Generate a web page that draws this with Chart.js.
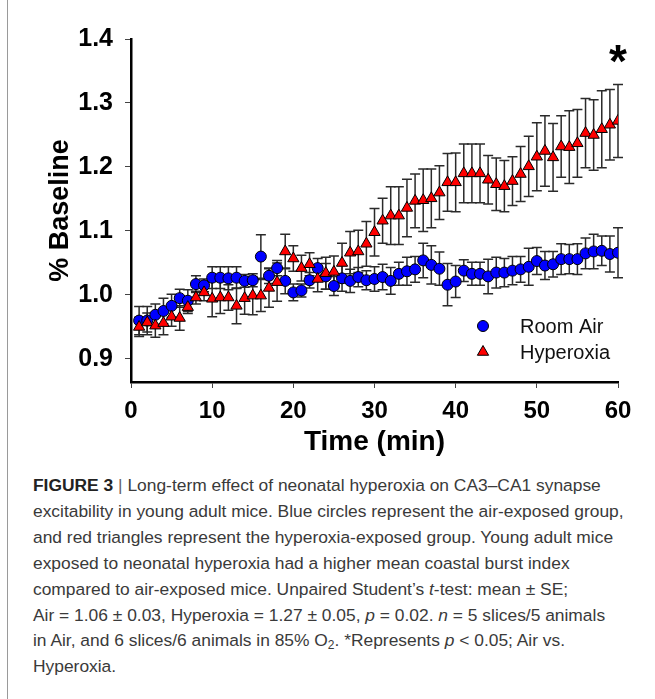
<!DOCTYPE html>
<html>
<head>
<meta charset="utf-8">
<script src="https://cdn.jsdelivr.net/npm/chart.js@4.4.1/dist/chart.umd.min.js"></script>
<style>
  body { margin: 0; background: #fff; width: 655px; height: 699px; overflow: hidden; position: relative; font-family: "Liberation Sans", Arial, sans-serif; }
  #frame { position: absolute; left: 7px; top: 0; width: 1px; height: 699px; background: #9a9a9a; }
  #wrap { position: absolute; left: 0; top: 0; width: 655px; height: 470px; }
  #caption { position: absolute; left: 33px; top: 473px; font-size: 17.4px; line-height: 25.9px; color: #3a3a3a; white-space: nowrap; }
  #caption b { color: #222; }
  #caption .bar { color: #666; }
  #caption sub { font-size: 12px; line-height: 0; vertical-align: -3px; }
</style>
</head>
<body>
<div id="frame"></div>
<div id="wrap"><canvas id="chart"></canvas></div>
<div id="caption">
<b>FIGURE 3</b> <span class="bar">|</span> Long-term effect of neonatal hyperoxia on CA3–CA1 synapse<br>
excitability in young adult mice. Blue circles represent the air-exposed group,<br>
and red triangles represent the hyperoxia-exposed group. Young adult mice<br>
exposed to neonatal hyperoxia had a higher mean coastal burst index<br>
compared to air-exposed mice. Unpaired Student’s <i>t</i>-test: mean ± SE;<br>
Air = 1.06 ± 0.03, Hyperoxia = 1.27 ± 0.05, <i>p</i> = 0.02. <i>n</i> = 5 slices/5 animals<br>
in Air, and 6 slices/6 animals in 85% O<sub>2</sub>. *Represents <i>p</i> &lt; 0.05; Air vs.<br>
Hyperoxia.
</div>
<script>
const minutes = [1, 2, 3, 4, 5, 6, 7, 8, 9, 10, 11, 12, 13, 14, 15, 16, 17, 18, 19, 20,
  21, 22, 23, 24, 25, 26, 27, 28, 29, 30, 31, 32, 33, 34, 35, 36, 37, 38, 39, 40,
  41, 42, 43, 44, 45, 46, 47, 48, 49, 50, 51, 52, 53, 54, 55, 56, 57, 58, 59, 60];

const roomAir = [0.960, 0.960, 0.969, 0.975, 0.983, 0.995, 0.991, 1.017, 1.015, 1.027,
  1.027, 1.026, 1.027, 1.022, 1.023, 1.060, 1.030, 1.042, 1.022, 1.004,
  1.007, 1.023, 1.042, 1.029, 1.014, 1.026, 1.022, 1.028, 1.023, 1.025,
  1.028, 1.022, 1.033, 1.037, 1.040, 1.054, 1.047, 1.041, 1.016, 1.021,
  1.038, 1.033, 1.033, 1.029, 1.035, 1.035, 1.038, 1.040, 1.044, 1.053,
  1.046, 1.048, 1.056, 1.056, 1.056, 1.065, 1.068, 1.069, 1.064, 1.066];

const roomAirSE = [0.022, 0.022, 0.017, 0.020, 0.018, 0.014, 0.017, 0.013, 0.010, 0.017,
  0.017, 0.018, 0.017, 0.010, 0.010, 0.034, 0.012, 0.012, 0.020, 0.013,
  0.010, 0.012, 0.015, 0.020, 0.015, 0.020, 0.018, 0.015, 0.015, 0.019,
  0.020, 0.021, 0.018, 0.022, 0.020, 0.027, 0.030, 0.026, 0.033, 0.025,
  0.017, 0.018, 0.018, 0.027, 0.024, 0.022, 0.022, 0.020, 0.029, 0.021,
  0.022, 0.020, 0.024, 0.023, 0.024, 0.024, 0.027, 0.023, 0.028, 0.039];

const hyperoxia = [0.950, 0.957, 0.952, 0.956, 0.966, 0.964, 0.981, 0.996, 1.004, 0.994,
  0.996, 0.996, 0.983, 0.995, 0.999, 0.999, 1.011, 1.020, 1.068, 1.057,
  1.042, 1.048, 1.025, 1.034, 1.036, 1.050, 1.066, 1.068, 1.080, 1.098,
  1.116, 1.124, 1.124, 1.136, 1.147, 1.148, 1.151, 1.160, 1.176, 1.176,
  1.190, 1.190, 1.190, 1.180, 1.173, 1.170, 1.178, 1.189, 1.201, 1.216,
  1.225, 1.215, 1.232, 1.231, 1.237, 1.253, 1.250, 1.259, 1.266, 1.272];

const hyperoxiaSE = [0.015, 0.015, 0.018, 0.018, 0.015, 0.019, 0.010, 0.010, 0.013, 0.028,
  0.025, 0.020, 0.028, 0.025, 0.030, 0.025, 0.030, 0.030, 0.027, 0.020,
  0.020, 0.018, 0.020, 0.025, 0.025, 0.031, 0.033, 0.033, 0.035, 0.037,
  0.035, 0.045, 0.045, 0.045, 0.042, 0.049, 0.046, 0.042, 0.045, 0.046,
  0.046, 0.046, 0.046, 0.038, 0.041, 0.040, 0.038, 0.043, 0.047, 0.053,
  0.055, 0.053, 0.048, 0.057, 0.053, 0.054, 0.055, 0.060, 0.055, 0.057];

const xTicks = [0, 10, 20, 30, 40, 50, 60];
const yTicks = [0.9, 1.0, 1.1, 1.2, 1.3, 1.4];

const boldFont = size => ({family: '"Liberation Sans", Arial, sans-serif', size: size, weight: 'bold'});

const toPoints = values => values.map((v, i) => ({x: minutes[i], y: v}));

// error bars go under the markers
const errorBars = {
  id: 'errorBars',
  beforeDatasetsDraw(chart) {
    const {ctx, scales: {x, y}} = chart;
    ctx.save();
    ctx.strokeStyle = '#2a2a2a';
    ctx.lineWidth = 1.5;
    chart.data.datasets.forEach(ds => {
      ds.data.forEach((p, i) => {
        const px = x.getPixelForValue(p.x);
        const top = y.getPixelForValue(p.y + ds.errors[i]);
        const bottom = y.getPixelForValue(p.y - ds.errors[i]);
        ctx.beginPath();
        ctx.moveTo(px, top); ctx.lineTo(px, bottom);
        ctx.moveTo(px - 5, top); ctx.lineTo(px + 5, top);
        ctx.moveTo(px - 5, bottom); ctx.lineTo(px + 5, bottom);
        ctx.stroke();
      });
    });
    ctx.restore();
  }
};

const legendAndStar = {
  id: 'legendAndStar',
  afterDraw(chart) {
    const {ctx, chartArea, scales: {x, y}} = chart;
    ctx.save();
    // significance star over the last time point
    ctx.fillStyle = '#000';
    ctx.font = 'bold 46px "Liberation Sans", Arial, sans-serif';
    ctx.textAlign = 'center';
    ctx.textBaseline = 'middle';
    ctx.fillText('*', x.getPixelForValue(60), y.getPixelForValue(1.36));

    // legend
    const mx = chartArea.left + 352;
    const tx = chartArea.left + 389;
    const rows = [chartArea.top + 287, chartArea.top + 313];
    ctx.font = '20px "Liberation Sans", Arial, sans-serif';
    ctx.textAlign = 'left';
    chart.data.datasets.forEach((ds, i) => {
      ctx.fillStyle = ds.backgroundColor;
      ctx.strokeStyle = '#000';
      ctx.lineWidth = 1;
      Chart.helpers.drawPoint(ctx, {pointStyle: ds.pointStyle, radius: ds.pointRadius, borderWidth: 1}, mx, rows[i]);
      ctx.fillStyle = '#111';
      ctx.fillText(ds.label, tx, rows[i] + 1);
    });
    ctx.restore();
  }
};

new Chart(document.getElementById('chart'), {
  type: 'scatter',
  data: {
    datasets: [
      {
        label: 'Room Air',
        data: toPoints(roomAir),
        errors: roomAirSE,
        pointStyle: 'circle',
        pointRadius: 5.5,
        backgroundColor: '#0000ff',
        borderColor: '#000',
        borderWidth: 1,
        order: 2,
      },
      {
        label: 'Hyperoxia',
        data: toPoints(hyperoxia),
        errors: hyperoxiaSE,
        pointStyle: 'triangle',
        pointRadius: 6.5,
        backgroundColor: '#ff0000',
        borderColor: '#000',
        borderWidth: 1,
        order: 1,
      },
    ]
  },
  options: {
    responsive: true,
    maintainAspectRatio: false,
    animation: false,
    events: [],
    layout: {padding: {left: 0, top: 39, right: 37, bottom: 0}},
    plugins: {
      legend: {display: false},
      tooltip: {enabled: false},
    },
    scales: {
      x: {
        type: 'linear',
        min: 0,
        max: 60,
        afterBuildTicks: scale => { scale.ticks = xTicks.map(v => ({value: v})); },
        afterFit: scale => { scale.height = 88; },
        grid: {drawOnChartArea: false, drawTicks: true, tickLength: 6, color: '#444', lineWidth: 1},
        border: {display: true, color: '#000', width: 2.5},
        ticks: {color: '#000', font: boldFont(24), padding: 9, maxRotation: 0},
        title: {display: true, text: 'Time (min)', color: '#000', font: boldFont(28), padding: {top: 0, bottom: 11}},
      },
      y: {
        type: 'linear',
        min: 0.864,
        max: 1.4,
        afterBuildTicks: scale => { scale.ticks = yTicks.map(v => ({value: v})); },
        afterFit: scale => { scale.width = 131; },
        grid: {drawOnChartArea: false, drawTicks: true, tickLength: 6, color: '#444', lineWidth: 1},
        border: {display: true, color: '#000', width: 2.5},
        ticks: {color: '#000', font: boldFont(25), padding: 12, callback: v => v.toFixed(1)},
        title: {display: true, text: '% Baseline', color: '#000', font: boldFont(27), padding: {top: 44, bottom: 0}},
      },
    }
  },
  plugins: [errorBars, legendAndStar]
});
</script>
</body>
</html>
